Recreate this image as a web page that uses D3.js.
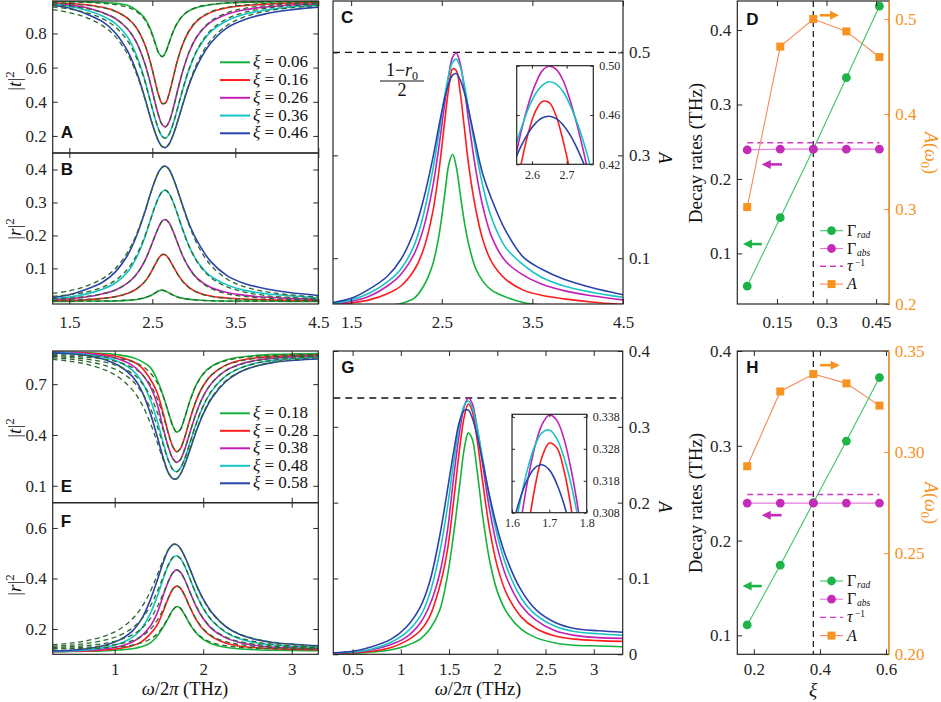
<!DOCTYPE html>
<html>
<head>
<meta charset="utf-8">
<script src="https://cdn.jsdelivr.net/npm/d3@7"></script>
<style>
  body { margin: 0; background: #fff; }
  svg { display: block; }
</style>
</head>
<body>
<svg id="fig" width="941" height="702"></svg>
<script>
// ---------- data ----------
// order of every series: xi = 0.06/0.16/0.26/0.36/0.46 (top) and 0.18 ... 0.58 (bottom)
const xiTop = ["0.06", "0.16", "0.26", "0.36", "0.46"];
const xiBot = ["0.18", "0.28", "0.38", "0.48", "0.58"];

const freqTop = [1.3, 1.5, 1.7, 1.9, 2.05, 2.2, 2.3, 2.4, 2.47, 2.53, 2.58, 2.62, 2.66, 2.7, 2.75, 2.8, 2.87, 2.95, 3.05, 3.2, 3.4, 3.6, 3.85, 4.15, 4.5];

const tSimTop = [
  [0.988, 0.987, 0.985, 0.981, 0.977, 0.965, 0.94, 0.895, 0.834, 0.753, 0.683, 0.664, 0.689, 0.742, 0.809, 0.859, 0.905, 0.934, 0.954, 0.968, 0.978, 0.982, 0.985, 0.987, 0.988],
  [0.98, 0.975, 0.968, 0.953, 0.932, 0.89, 0.839, 0.747, 0.643, 0.527, 0.433, 0.39, 0.394, 0.443, 0.538, 0.636, 0.74, 0.819, 0.878, 0.922, 0.95, 0.963, 0.971, 0.977, 0.982],
  [0.972, 0.966, 0.952, 0.922, 0.889, 0.828, 0.756, 0.639, 0.521, 0.403, 0.313, 0.265, 0.253, 0.28, 0.358, 0.456, 0.584, 0.697, 0.789, 0.865, 0.912, 0.937, 0.954, 0.965, 0.973],
  [0.971, 0.959, 0.937, 0.902, 0.86, 0.781, 0.684, 0.544, 0.415, 0.308, 0.233, 0.196, 0.187, 0.208, 0.27, 0.354, 0.476, 0.598, 0.708, 0.808, 0.874, 0.911, 0.936, 0.953, 0.965],
  [0.964, 0.949, 0.915, 0.869, 0.806, 0.699, 0.588, 0.44, 0.319, 0.226, 0.165, 0.137, 0.132, 0.151, 0.204, 0.277, 0.389, 0.509, 0.622, 0.741, 0.833, 0.879, 0.913, 0.937, 0.954]
];
const tFitTop = [
  [0.986, 0.984, 0.982, 0.977, 0.969, 0.954, 0.932, 0.887, 0.826, 0.748, 0.683, 0.664, 0.689, 0.742, 0.81, 0.861, 0.907, 0.936, 0.956, 0.97, 0.979, 0.983, 0.985, 0.987, 0.988],
  [0.978, 0.973, 0.965, 0.951, 0.93, 0.89, 0.839, 0.747, 0.643, 0.527, 0.433, 0.39, 0.394, 0.443, 0.538, 0.636, 0.742, 0.822, 0.881, 0.926, 0.953, 0.966, 0.975, 0.98, 0.984],
  [0.968, 0.959, 0.946, 0.922, 0.889, 0.828, 0.756, 0.639, 0.521, 0.403, 0.313, 0.265, 0.253, 0.28, 0.358, 0.456, 0.586, 0.7, 0.793, 0.871, 0.921, 0.946, 0.962, 0.972, 0.978],
  [0.955, 0.943, 0.923, 0.887, 0.84, 0.758, 0.668, 0.535, 0.415, 0.308, 0.233, 0.196, 0.187, 0.208, 0.27, 0.354, 0.479, 0.602, 0.713, 0.816, 0.886, 0.922, 0.946, 0.961, 0.971],
  [0.94, 0.922, 0.894, 0.846, 0.784, 0.681, 0.576, 0.434, 0.319, 0.226, 0.165, 0.137, 0.132, 0.151, 0.204, 0.277, 0.392, 0.515, 0.637, 0.758, 0.847, 0.895, 0.928, 0.949, 0.963]
];
const rSimTop = [
  [0, 0, 0.001, 0.001, 0.001, 0.003, 0.005, 0.01, 0.016, 0.025, 0.032, 0.034, 0.031, 0.026, 0.019, 0.014, 0.009, 0.006, 0.004, 0.002, 0.001, 0.001, 0.001, 0, 0],
  [0.002, 0.003, 0.005, 0.009, 0.014, 0.024, 0.036, 0.057, 0.082, 0.11, 0.132, 0.142, 0.141, 0.129, 0.107, 0.085, 0.06, 0.041, 0.027, 0.016, 0.01, 0.007, 0.005, 0.003, 0.002],
  [0.006, 0.008, 0.013, 0.023, 0.034, 0.055, 0.079, 0.118, 0.158, 0.197, 0.227, 0.244, 0.248, 0.239, 0.213, 0.18, 0.136, 0.099, 0.068, 0.043, 0.027, 0.019, 0.013, 0.009, 0.006],
  [0.008, 0.013, 0.022, 0.037, 0.055, 0.088, 0.128, 0.187, 0.241, 0.286, 0.317, 0.333, 0.337, 0.328, 0.302, 0.267, 0.216, 0.164, 0.118, 0.077, 0.05, 0.034, 0.024, 0.017, 0.011],
  [0.012, 0.02, 0.036, 0.058, 0.088, 0.139, 0.192, 0.263, 0.32, 0.365, 0.394, 0.407, 0.41, 0.401, 0.375, 0.34, 0.288, 0.231, 0.179, 0.122, 0.078, 0.055, 0.039, 0.027, 0.018]
];
const rFitTop = [
  [0, 0.001, 0.001, 0.001, 0.002, 0.004, 0.006, 0.011, 0.017, 0.025, 0.032, 0.034, 0.031, 0.026, 0.019, 0.013, 0.009, 0.006, 0.004, 0.002, 0.001, 0.001, 0.001, 0, 0],
  [0.003, 0.004, 0.006, 0.009, 0.014, 0.024, 0.036, 0.057, 0.082, 0.11, 0.132, 0.142, 0.141, 0.129, 0.107, 0.084, 0.059, 0.04, 0.026, 0.015, 0.009, 0.006, 0.004, 0.002, 0.002],
  [0.008, 0.01, 0.015, 0.023, 0.034, 0.055, 0.079, 0.118, 0.158, 0.197, 0.227, 0.244, 0.248, 0.239, 0.213, 0.18, 0.136, 0.098, 0.066, 0.04, 0.023, 0.015, 0.01, 0.006, 0.004],
  [0.015, 0.02, 0.028, 0.043, 0.063, 0.097, 0.135, 0.191, 0.241, 0.286, 0.317, 0.333, 0.337, 0.328, 0.302, 0.267, 0.214, 0.163, 0.116, 0.073, 0.044, 0.029, 0.018, 0.012, 0.008],
  [0.024, 0.032, 0.046, 0.069, 0.098, 0.148, 0.198, 0.265, 0.32, 0.365, 0.394, 0.407, 0.41, 0.401, 0.375, 0.34, 0.285, 0.227, 0.169, 0.111, 0.068, 0.045, 0.03, 0.02, 0.013]
];
const absTop = [
  [0.002, 0.003, 0.005, 0.008, 0.012, 0.023, 0.046, 0.088, 0.145, 0.22, 0.284, 0.302, 0.278, 0.23, 0.17, 0.125, 0.082, 0.056, 0.038, 0.025, 0.014, 0.009, 0.007, 0.005, 0.004],
  [0.009, 0.013, 0.019, 0.031, 0.046, 0.078, 0.118, 0.189, 0.271, 0.362, 0.434, 0.468, 0.465, 0.427, 0.353, 0.277, 0.2, 0.138, 0.093, 0.06, 0.038, 0.028, 0.021, 0.015, 0.01],
  [0.012, 0.016, 0.026, 0.046, 0.069, 0.11, 0.159, 0.238, 0.318, 0.397, 0.459, 0.491, 0.499, 0.481, 0.429, 0.362, 0.278, 0.203, 0.142, 0.095, 0.067, 0.05, 0.037, 0.027, 0.019],
  [0.012, 0.019, 0.032, 0.054, 0.079, 0.127, 0.186, 0.27, 0.345, 0.413, 0.458, 0.481, 0.487, 0.474, 0.437, 0.385, 0.315, 0.243, 0.178, 0.122, 0.087, 0.063, 0.046, 0.034, 0.024],
  [0.014, 0.022, 0.04, 0.065, 0.098, 0.155, 0.215, 0.293, 0.358, 0.409, 0.441, 0.456, 0.459, 0.448, 0.422, 0.385, 0.327, 0.265, 0.215, 0.155, 0.102, 0.079, 0.059, 0.043, 0.029]
];
// zoomed peak of C (red, magenta, cyan, blue)
const freqInsetTop = [2.55, 2.57, 2.59, 2.61, 2.63, 2.65, 2.67, 2.69, 2.71, 2.73, 2.75, 2.77, 2.79];
const absInsetTop = [
  [0.393, 0.422, 0.446, 0.463, 0.471, 0.47, 0.459, 0.439, 0.414, 0.384, 0.35, 0.315, 0.28],
  [0.423, 0.448, 0.469, 0.485, 0.496, 0.4995, 0.497, 0.488, 0.472, 0.452, 0.429, 0.403, 0.377],
  [0.433, 0.45, 0.4655, 0.477, 0.484, 0.487, 0.485, 0.479, 0.468, 0.454, 0.437, 0.417, 0.395],
  [0.423, 0.4355, 0.4457, 0.4532, 0.4577, 0.459, 0.4571, 0.4519, 0.4439, 0.4332, 0.4202, 0.405, 0.389]
];

const freqBot = [0.3, 0.5, 0.7, 0.9, 1.05, 1.2, 1.3, 1.4, 1.48, 1.55, 1.61, 1.66, 1.7, 1.74, 1.79, 1.85, 1.92, 2.0, 2.1, 2.25, 2.4, 2.6, 2.8, 3.05, 3.3];

const tSimBot = [
  [0.889, 0.888, 0.886, 0.881, 0.873, 0.857, 0.836, 0.801, 0.726, 0.629, 0.529, 0.449, 0.417, 0.431, 0.5, 0.602, 0.695, 0.762, 0.808, 0.842, 0.859, 0.87, 0.876, 0.879, 0.881],
  [0.889, 0.887, 0.882, 0.874, 0.861, 0.835, 0.801, 0.732, 0.65, 0.524, 0.404, 0.328, 0.301, 0.318, 0.385, 0.492, 0.603, 0.691, 0.758, 0.811, 0.838, 0.856, 0.864, 0.87, 0.873],
  [0.888, 0.885, 0.879, 0.866, 0.847, 0.811, 0.765, 0.689, 0.582, 0.436, 0.323, 0.258, 0.238, 0.253, 0.314, 0.414, 0.528, 0.628, 0.709, 0.779, 0.815, 0.841, 0.854, 0.862, 0.867],
  [0.887, 0.883, 0.874, 0.857, 0.831, 0.783, 0.722, 0.611, 0.485, 0.351, 0.246, 0.195, 0.183, 0.202, 0.258, 0.353, 0.465, 0.57, 0.662, 0.746, 0.792, 0.825, 0.842, 0.852, 0.859],
  [0.885, 0.88, 0.868, 0.843, 0.809, 0.746, 0.667, 0.532, 0.392, 0.263, 0.173, 0.141, 0.142, 0.166, 0.223, 0.312, 0.419, 0.523, 0.62, 0.713, 0.768, 0.807, 0.829, 0.842, 0.849]
];
const tFitBot = [
  [0.875, 0.872, 0.868, 0.861, 0.851, 0.833, 0.81, 0.768, 0.709, 0.625, 0.527, 0.449, 0.417, 0.431, 0.5, 0.601, 0.693, 0.759, 0.805, 0.838, 0.854, 0.865, 0.87, 0.874, 0.876],
  [0.87, 0.865, 0.858, 0.846, 0.829, 0.798, 0.762, 0.699, 0.616, 0.51, 0.402, 0.327, 0.301, 0.317, 0.385, 0.492, 0.603, 0.69, 0.757, 0.809, 0.835, 0.853, 0.862, 0.869, 0.872],
  [0.864, 0.857, 0.847, 0.829, 0.805, 0.763, 0.713, 0.634, 0.536, 0.424, 0.322, 0.258, 0.238, 0.253, 0.313, 0.414, 0.528, 0.628, 0.71, 0.778, 0.814, 0.839, 0.853, 0.862, 0.868],
  [0.856, 0.848, 0.833, 0.809, 0.777, 0.72, 0.657, 0.561, 0.452, 0.338, 0.245, 0.194, 0.183, 0.202, 0.259, 0.354, 0.467, 0.572, 0.665, 0.747, 0.791, 0.824, 0.842, 0.855, 0.863],
  [0.847, 0.835, 0.816, 0.782, 0.739, 0.666, 0.588, 0.474, 0.358, 0.249, 0.173, 0.141, 0.142, 0.167, 0.226, 0.317, 0.424, 0.529, 0.626, 0.717, 0.769, 0.808, 0.831, 0.847, 0.856]
];
const rSimBot = [
  [0.11, 0.111, 0.112, 0.114, 0.117, 0.122, 0.13, 0.144, 0.172, 0.209, 0.246, 0.277, 0.289, 0.283, 0.257, 0.219, 0.184, 0.159, 0.141, 0.128, 0.122, 0.118, 0.116, 0.115, 0.114],
  [0.111, 0.112, 0.113, 0.117, 0.123, 0.134, 0.149, 0.18, 0.216, 0.272, 0.325, 0.359, 0.37, 0.363, 0.333, 0.286, 0.237, 0.198, 0.169, 0.145, 0.133, 0.126, 0.122, 0.119, 0.118],
  [0.111, 0.113, 0.116, 0.122, 0.131, 0.149, 0.172, 0.21, 0.263, 0.335, 0.391, 0.424, 0.434, 0.426, 0.396, 0.346, 0.29, 0.241, 0.2, 0.166, 0.148, 0.135, 0.128, 0.125, 0.122],
  [0.112, 0.114, 0.118, 0.128, 0.142, 0.167, 0.2, 0.26, 0.328, 0.4, 0.456, 0.484, 0.49, 0.48, 0.45, 0.399, 0.339, 0.282, 0.233, 0.188, 0.163, 0.146, 0.137, 0.131, 0.128],
  [0.113, 0.116, 0.123, 0.137, 0.156, 0.192, 0.237, 0.313, 0.392, 0.465, 0.516, 0.535, 0.534, 0.52, 0.488, 0.438, 0.377, 0.319, 0.264, 0.211, 0.18, 0.158, 0.146, 0.139, 0.134]
];
const rFitBot = [
  [0.121, 0.122, 0.123, 0.126, 0.129, 0.136, 0.145, 0.16, 0.181, 0.212, 0.248, 0.277, 0.289, 0.284, 0.258, 0.221, 0.187, 0.163, 0.146, 0.134, 0.128, 0.124, 0.122, 0.121, 0.12],
  [0.123, 0.125, 0.128, 0.134, 0.141, 0.154, 0.17, 0.198, 0.234, 0.28, 0.327, 0.359, 0.37, 0.363, 0.334, 0.287, 0.24, 0.201, 0.172, 0.15, 0.139, 0.131, 0.127, 0.124, 0.122],
  [0.127, 0.13, 0.135, 0.144, 0.156, 0.177, 0.201, 0.24, 0.287, 0.342, 0.392, 0.424, 0.434, 0.426, 0.397, 0.347, 0.292, 0.243, 0.203, 0.169, 0.151, 0.139, 0.132, 0.128, 0.125],
  [0.132, 0.136, 0.144, 0.157, 0.174, 0.204, 0.238, 0.289, 0.347, 0.408, 0.457, 0.484, 0.49, 0.48, 0.45, 0.399, 0.339, 0.283, 0.234, 0.19, 0.166, 0.149, 0.139, 0.132, 0.128],
  [0.138, 0.144, 0.155, 0.174, 0.198, 0.24, 0.284, 0.347, 0.413, 0.474, 0.516, 0.535, 0.534, 0.52, 0.487, 0.436, 0.375, 0.316, 0.262, 0.211, 0.182, 0.16, 0.147, 0.138, 0.132]
];
const absBot = [
  [0.001, 0.001, 0.003, 0.006, 0.011, 0.02, 0.033, 0.057, 0.101, 0.161, 0.223, 0.273, 0.292, 0.284, 0.243, 0.181, 0.124, 0.083, 0.055, 0.033, 0.022, 0.015, 0.012, 0.011, 0.01],
  [0.001, 0.002, 0.004, 0.009, 0.017, 0.031, 0.05, 0.088, 0.135, 0.205, 0.272, 0.315, 0.33, 0.321, 0.284, 0.226, 0.165, 0.116, 0.079, 0.049, 0.034, 0.024, 0.02, 0.018, 0.017],
  [0.001, 0.003, 0.006, 0.013, 0.022, 0.041, 0.065, 0.105, 0.16, 0.236, 0.294, 0.328, 0.338, 0.331, 0.3, 0.249, 0.191, 0.141, 0.1, 0.064, 0.045, 0.031, 0.025, 0.022, 0.021],
  [0.002, 0.003, 0.007, 0.016, 0.028, 0.05, 0.08, 0.132, 0.191, 0.255, 0.304, 0.329, 0.334, 0.326, 0.3, 0.257, 0.205, 0.157, 0.114, 0.074, 0.052, 0.037, 0.03, 0.027, 0.025],
  [0.002, 0.004, 0.01, 0.02, 0.035, 0.062, 0.096, 0.154, 0.214, 0.269, 0.308, 0.322, 0.322, 0.312, 0.289, 0.253, 0.209, 0.166, 0.125, 0.084, 0.059, 0.042, 0.034, 0.031, 0.029]
];
const freqInsetBot = [1.6, 1.62, 1.64, 1.66, 1.68, 1.7, 1.72, 1.74, 1.76, 1.78, 1.8];
const absInsetBot = [
  [0.2625, 0.2824, 0.3004, 0.3151, 0.3253, 0.3298, 0.3283, 0.3208, 0.3082, 0.2917, 0.2726],
  [0.286, 0.3024, 0.3168, 0.3281, 0.3355, 0.3386, 0.3369, 0.3308, 0.3205, 0.307, 0.2911],
  [0.2977, 0.3104, 0.3209, 0.3286, 0.333, 0.3339, 0.3312, 0.325, 0.316, 0.3043, 0.2907],
  [0.3033, 0.3118, 0.3181, 0.3219, 0.323, 0.3214, 0.317, 0.3103, 0.3014, 0.2907, 0.28]
];
const maxAbsTop = 0.5, maxAbsBot = 0.338;   // (1 - r0)/2

// decay rates vs xi
const xiD = [0.06, 0.16, 0.26, 0.36, 0.46];
const gradD = [0.056, 0.148, 0.24, 0.336, 0.432];
const gabsD = [0.239, 0.24, 0.24, 0.24, 0.24];
const tauInvD = 0.2485;
const peakAbsD = [0.302, 0.471, 0.5, 0.487, 0.46];
const xiCritD = 0.26;

const xiH = [0.18, 0.28, 0.38, 0.48, 0.58];
const gradH = [0.111, 0.174, 0.24, 0.305, 0.372];
const gabsH = [0.2395, 0.2395, 0.2395, 0.2395, 0.2395];
const tauInvH = 0.2486;
const peakAbsH = [0.293, 0.33, 0.3386, 0.334, 0.323];
const xiCritH = 0.38;

// ---------- style ----------
const colors = ["#14b23a", "#ff1c1c", "#c21fb6", "#16c4c4", "#2a43ab"];
const fitColor = "#2c682c";
const ink = "#262626";
const orange = "#f7931e";
const serif = '"Liberation Serif","DejaVu Serif",serif';
const sans = '"Liberation Sans","DejaVu Sans",Arial,sans-serif';

const svg = d3.select("#fig");
const curvesLayer = svg.append("g");
const frameLayer = svg.append("g");
let clipCount = 0;

function panel(x0, x1, y0, y1, xDom, yDom) {
  const id = "clip" + (clipCount++);
  svg.append("clipPath").attr("id", id)
    .append("rect").attr("x", x0).attr("y", y0).attr("width", x1 - x0).attr("height", y1 - y0);
  return {
    x0, x1, y0, y1,
    x: d3.scaleLinear().domain(xDom).range([x0, x1]),
    y: d3.scaleLinear().domain(yDom).range([y1, y0]),
    g: curvesLayer.append("g").attr("clip-path", `url(#${id})`)
  };
}

function styleAxis(sel, color, fs) {
  sel.select(".domain").remove();
  sel.selectAll("line").attr("stroke", color).attr("stroke-width", 1);
  sel.selectAll("text").attr("font-family", serif).attr("font-size", fs).attr("fill", color);
}

// MATLAB-like box: ticks inside on all four sides
function axes(p, o) {
  const g = frameLayer.append("g");
  const fs = o.fs || 17, tk = o.tick || 5;
  const fmtX = o.xFmt || null, fmtY = o.yFmt || (d => String(d));
  g.append("g").attr("transform", `translate(0,${p.y1})`)
    .call(d3.axisBottom(p.x).tickValues(o.xTicks).tickSize(-tk).tickSizeOuter(0)
      .tickPadding(o.xPad || 9).tickFormat(fmtX ? fmtX : () => ""))
    .call(s => styleAxis(s, ink, fs));
  g.append("g").attr("transform", `translate(0,${p.y0})`)
    .call(d3.axisTop(p.x).tickValues(o.xTicks).tickSize(-tk).tickSizeOuter(0).tickFormat(() => ""))
    .call(s => styleAxis(s, ink, fs));
  const rightScale = o.y2 ? o.y2.scale : p.y;
  g.append("g").attr("transform", `translate(${p.x0},0)`)
    .call(d3.axisLeft(p.y).tickValues(o.yTicks).tickSize(-tk).tickSizeOuter(0)
      .tickPadding(6).tickFormat(o.ySide === "right" ? () => "" : fmtY))
    .call(s => styleAxis(s, ink, fs));
  g.append("g").attr("transform", `translate(${p.x1},0)`)
    .call(d3.axisRight(rightScale).tickValues(o.y2 ? o.y2.ticks : o.yTicks).tickSize(-tk).tickSizeOuter(0)
      .tickPadding(6).tickFormat(o.y2 ? o.y2.fmt : (o.ySide === "right" ? fmtY : () => "")))
    .call(s => styleAxis(s, o.y2 ? orange : ink, fs));
  g.append("rect").attr("x", p.x0).attr("y", p.y0).attr("width", p.x1 - p.x0).attr("height", p.y1 - p.y0)
    .attr("fill", "none").attr("stroke", ink).attr("stroke-width", 1.2);
  if (o.y2) {
    g.append("line").attr("x1", p.x1).attr("x2", p.x1).attr("y1", p.y0).attr("y2", p.y1)
      .attr("stroke", orange).attr("stroke-width", 1.4);
  }
}

function curves(p, freq, sets, cols, dashed) {
  const line = d3.line()
    .x((d, i) => p.x(freq[i]))
    .y(d => p.y(d))
    .curve(d3.curveCatmullRom.alpha(0.5));
  p.g.selectAll(null).data(sets).join("path")
    .attr("d", line)
    .attr("fill", "none")
    .attr("stroke", (d, i) => dashed ? fitColor : cols[i])
    .attr("stroke-width", dashed ? 1.3 : 1.6)
    .attr("stroke-dasharray", dashed ? "5,3.5" : null);
}

function letter(p, txt, dx, dy) {
  frameLayer.append("text").attr("x", p.x0 + dx).attr("y", p.y0 + dy)
    .attr("font-family", sans).attr("font-weight", "bold").attr("font-size", 17).attr("fill", "#111")
    .text(txt);
}

function rotLabel(x, y, angle, build, color, fs) {
  const t = frameLayer.append("text")
    .attr("transform", `translate(${x},${y}) rotate(${angle})`)
    .attr("text-anchor", "middle").attr("font-family", serif).attr("font-size", fs || 19)
    .attr("fill", color || "#111");
  build(t);
}
function absLabel(t) {          // |t|^2 or |r|^2
  return sym => {
    t.append("tspan").text("|");
    t.append("tspan").attr("font-style", "italic").text(sym);
    t.append("tspan").text("|");
    t.append("tspan").attr("font-size", 13).attr("dy", -7).text("2");
  };
}

function xiLegend(p, labels, x, y, step) {
  const g = frameLayer.append("g");
  labels.forEach((lab, i) => {
    const yy = y + i * step;
    g.append("line").attr("x1", x).attr("x2", x + 30).attr("y1", yy).attr("y2", yy)
      .attr("stroke", colors[i]).attr("stroke-width", 2);
    const t = g.append("text").attr("x", x + 33).attr("y", yy + 5)
      .attr("font-family", serif).attr("font-size", 17).attr("fill", "#111");
    t.append("tspan").attr("font-style", "italic").text("ξ");
    t.append("tspan").text(" = " + lab);
  });
}

function xTitle(x, y) {
  const t = frameLayer.append("text").attr("x", x).attr("y", y).attr("text-anchor", "middle")
    .attr("font-family", serif).attr("font-size", 18.5).attr("fill", "#111");
  t.append("tspan").attr("font-style", "italic").text("ω");
  t.append("tspan").text("/2");
  t.append("tspan").attr("font-style", "italic").text("π");
  t.append("tspan").text(" (THz)");
}

// ---------- top row ----------
const pA = panel(52.7, 318.3, 1, 153, [1.3, 4.5], [0.1, 0.99]);
const pB = panel(52.7, 318.3, 153, 304, [1.3, 4.5], [-0.008, 0.45]);
const pC = panel(333, 623, 1, 304, [1.3, 4.5], [0.011, 0.6]);

curves(pA, freqTop, tSimTop, colors, false);
curves(pA, freqTop, tFitTop, colors, true);
curves(pB, freqTop, rSimTop, colors, false);
curves(pB, freqTop, rFitTop, colors, true);
pC.g.append("line").attr("x1", pC.x0).attr("x2", pC.x1)
  .attr("y1", pC.y(maxAbsTop)).attr("y2", pC.y(maxAbsTop))
  .attr("stroke", "#111").attr("stroke-width", 1.3).attr("stroke-dasharray", "7,5");
curves(pC, freqTop, absTop, colors, false);

axes(pA, { xTicks: [1.5, 2.5, 3.5, 4.5], yTicks: [0.2, 0.4, 0.6, 0.8] });
axes(pB, { xTicks: [1.5, 2.5, 3.5, 4.5], yTicks: [0.1, 0.2, 0.3, 0.4], xFmt: d => String(d), xPad: 12 });
axes(pC, { xTicks: [1.5, 2.5, 3.5, 4.5], yTicks: [0.1, 0.3, 0.5], ySide: "right", xFmt: d => String(d), xPad: 12 });
letter(pA, "A", 8, 137);
letter(pB, "B", 8, 22);
letter(pC, "C", 8, 22);
xiLegend(pA, xiTop, 220, 62.3, 17.75);
rotLabel(21, 81, -90, t => absLabel(t)("t"));
rotLabel(21, 229, -90, t => absLabel(t)("r"));
rotLabel(659, 158, 90, t => t.append("tspan").attr("font-style", "italic").text("A"), null, 18);

// (1 - r0)/2 annotation
{
  const g = frameLayer.append("g").attr("font-family", serif).attr("font-size", 18).attr("fill", "#111");
  const cx = pC.x(1.3) + 69;
  const num = g.append("text").attr("x", cx).attr("y", 76).attr("text-anchor", "middle");
  num.append("tspan").text("1−");
  num.append("tspan").attr("font-style", "italic").text("r");
  num.append("tspan").attr("font-size", 12).attr("dy", 4).text("0");
  g.append("line").attr("x1", cx - 22).attr("x2", cx + 22).attr("y1", 81).attr("y2", 81)
    .attr("stroke", "#111").attr("stroke-width", 1);
  g.append("text").attr("x", cx).attr("y", 96).attr("text-anchor", "middle").text("2");
}

// inset of C
const pCi = panel(516.7, 593.3, 65.7, 164.3, [2.556, 2.777], [0.42, 0.5]);
pCi.g.append("rect").attr("x", pCi.x0).attr("y", pCi.y0).attr("width", pCi.x1 - pCi.x0)
  .attr("height", pCi.y1 - pCi.y0).attr("fill", "#fff");
curves(pCi, freqInsetTop, absInsetTop, colors.slice(1), false);
axes(pCi, { xTicks: [2.6, 2.7], yTicks: [0.42, 0.46, 0.5], ySide: "right", fs: 12, tick: 3,
  xFmt: d => d.toFixed(1), yFmt: d3.format(".2f"), xPad: 6 });

// D: decay rates
const pD = panel(737.3, 889.3, 1, 304, [0.03, 0.49], [0.032, 0.439]);
const yD2 = d3.scaleLinear().domain([0.2, 0.519]).range([304, 1]);
// H: decay rates
const pH = panel(737.3, 888.7, 351, 654.3, [0.15, 0.608], [0.08, 0.4]);
const yH2 = d3.scaleLinear().domain([0.2, 0.35]).range([654.3, 351]);

function ratesPanel(p, y2, xi, grad, gabs, tauInv, peakAbs, xiCrit, arrowsSpec) {
  const g = p.g;
  g.append("line").attr("x1", p.x(xiCrit)).attr("x2", p.x(xiCrit)).attr("y1", p.y0).attr("y2", p.y1)
    .attr("stroke", "#111").attr("stroke-width", 1.2).attr("stroke-dasharray", "6,4");
  g.append("line").attr("x1", p.x(xi[0])).attr("x2", p.x(xi[xi.length - 1]))
    .attr("y1", p.y(tauInv)).attr("y2", p.y(tauInv))
    .attr("stroke", "#d23cc6").attr("stroke-width", 1.4).attr("stroke-dasharray", "6,4");
  const lineL = d3.line().x((d, i) => p.x(xi[i])).y(d => p.y(d));
  const lineR = d3.line().x((d, i) => p.x(xi[i])).y(d => y2(d));
  g.append("path").attr("d", lineR(peakAbs)).attr("fill", "none").attr("stroke", "#f58a5a").attr("stroke-width", 1.1);
  g.append("path").attr("d", lineL(grad)).attr("fill", "none").attr("stroke", "#3cc466").attr("stroke-width", 1.1);
  g.append("path").attr("d", lineL(gabs)).attr("fill", "none").attr("stroke", "#e07ad8").attr("stroke-width", 1.1);
  g.selectAll(null).data(peakAbs).join("rect")
    .attr("x", (d, i) => p.x(xi[i]) - 4).attr("y", d => y2(d) - 4).attr("width", 8).attr("height", 8)
    .attr("fill", orange);
  g.selectAll(null).data(grad).join("circle")
    .attr("cx", (d, i) => p.x(xi[i])).attr("cy", d => p.y(d)).attr("r", 4.4).attr("fill", "#1db447");
  g.selectAll(null).data(gabs).join("circle")
    .attr("cx", (d, i) => p.x(xi[i])).attr("cy", d => p.y(d)).attr("r", 4.4).attr("fill", "#c42bb8");
  arrowsSpec.forEach(a => {
    const ys = a.axis === "R" ? y2 : p.y;
    const x1 = p.x(a.x[0]), x2 = p.x(a.x[1]), yy = ys(a.y);
    const dir = Math.sign(x2 - x1);
    frameLayer.append("line").attr("x1", x1).attr("x2", x2 - dir * 6).attr("y1", yy).attr("y2", yy)
      .attr("stroke", a.color).attr("stroke-width", 2.6);
    frameLayer.append("path")
      .attr("d", `M${x2},${yy} L${x2 - dir * 9},${yy - 4.5} L${x2 - dir * 9},${yy + 4.5} Z`)
      .attr("fill", a.color);
  });
}

const arrowsD = [
  { axis: "L", x: [0.104, 0.047], y: 0.1125, color: "#1db447" },
  { axis: "L", x: [0.165, 0.104], y: 0.2195, color: "#c42bb8" },
  { axis: "R", x: [0.28, 0.338], y: 0.504, color: orange }
];
const arrowsH = [
  { axis: "L", x: [0.224, 0.166], y: 0.152, color: "#1db447" },
  { axis: "L", x: [0.284, 0.224], y: 0.2268, color: "#c42bb8" },
  { axis: "R", x: [0.4, 0.46], y: 0.343, color: orange }
];
ratesPanel(pD, yD2, xiD, gradD, gabsD, tauInvD, peakAbsD, xiCritD, arrowsD);
ratesPanel(pH, yH2, xiH, gradH, gabsH, tauInvH, peakAbsH, xiCritH, arrowsH);

axes(pD, { xTicks: [0.15, 0.3, 0.45], yTicks: [0.1, 0.2, 0.3, 0.4], xFmt: d => String(d), xPad: 12,
  y2: { scale: yD2, ticks: [0.2, 0.3, 0.4, 0.5], fmt: d => d.toFixed(1) } });
axes(pH, { xTicks: [0.2, 0.4, 0.6], yTicks: [0.1, 0.2, 0.3, 0.4], xFmt: d => String(d), xPad: 9,
  y2: { scale: yH2, ticks: [0.2, 0.25, 0.3, 0.35], fmt: d3.format(".2f") } });
letter(pD, "D", 9, 24);
letter(pH, "H", 9, 22);

function ratesLegend(p, y, step) {
  const g = frameLayer.append("g");
  const x = 820;
  const items = [
    { c: "#3cc466", m: "circle", mc: "#1db447", sym: "Γ", sub: "rad" },
    { c: "#e07ad8", m: "circle", mc: "#c42bb8", sym: "Γ", sub: "abs" },
    { c: "#d23cc6", m: "dash", sym: "τ", sup: "−1" },
    { c: "#f58a5a", m: "square", mc: orange, sym: "A" }
  ];
  items.forEach((it, i) => {
    const yy = y + i * step;
    g.append("line").attr("x1", x).attr("x2", x + 23).attr("y1", yy).attr("y2", yy)
      .attr("stroke", it.c).attr("stroke-width", it.m === "dash" ? 1.4 : 1.1)
      .attr("stroke-dasharray", it.m === "dash" ? "6,4" : null);
    if (it.m === "circle") g.append("circle").attr("cx", x + 11.5).attr("cy", yy).attr("r", 4.4).attr("fill", it.mc);
    if (it.m === "square") g.append("rect").attr("x", x + 7.5).attr("y", yy - 4).attr("width", 8).attr("height", 8).attr("fill", it.mc);
    // main symbol and its index are separate text nodes so they do not collide with neighbouring rows
    const t = g.append("text").attr("x", x + 27).attr("y", yy + 5)
      .attr("font-family", serif).attr("font-size", 16).attr("fill", "#111")
      .attr("font-style", it.sym === "Γ" ? "normal" : "italic").text(it.sym);
    const w = it.sym === "Γ" ? 10 : 8;
    if (it.sub) g.append("text").attr("x", x + 27 + w).attr("y", yy + 7)
      .attr("font-family", serif).attr("font-size", 9.5).attr("font-style", "italic").attr("fill", "#111").text(it.sub);
    if (it.sup) g.append("text").attr("x", x + 27 + w).attr("y", yy)
      .attr("font-family", serif).attr("font-size", 9.5).attr("fill", "#111").text(it.sup);
  });
}
ratesLegend(pD, 230.7, 17.8);
ratesLegend(pH, 581, 18.2);

function decayLabels(cy) {
  rotLabel(702, cy, -90, t => t.text("Decay rates (THz)"));
  rotLabel(925, cy, 90, t => {
    t.append("tspan").attr("font-style", "italic").text("A");
    t.append("tspan").text("(");
    t.append("tspan").attr("font-style", "italic").text("ω");
    t.append("tspan").attr("font-size", 13).attr("dy", 4).text("0");
    t.append("tspan").attr("dy", -4).text(")");
  }, orange, 18);
}
decayLabels(153);
decayLabels(503);

// ---------- bottom row ----------
const pE = panel(52.7, 318.3, 351, 502.7, [0.3, 3.3], [0, 0.896]);
const pF = panel(52.7, 318.3, 502.7, 654.3, [0.3, 3.3], [0.1, 0.7]);
const pG = panel(333.3, 622.7, 351, 654.3, [0.3, 3.3], [0, 0.4]);

curves(pE, freqBot, tSimBot, colors, false);
curves(pE, freqBot, tFitBot, colors, true);
curves(pF, freqBot, rSimBot, colors, false);
curves(pF, freqBot, rFitBot, colors, true);
pG.g.append("line").attr("x1", pG.x0).attr("x2", pG.x1)
  .attr("y1", pG.y(maxAbsBot)).attr("y2", pG.y(maxAbsBot))
  .attr("stroke", "#111").attr("stroke-width", 1.3).attr("stroke-dasharray", "7,5");
curves(pG, freqBot, absBot, colors, false);

axes(pE, { xTicks: [1, 2, 3], yTicks: [0.1, 0.4, 0.7] });
axes(pF, { xTicks: [1, 2, 3], yTicks: [0.2, 0.4, 0.6], xFmt: d => String(d), xPad: 9 });
axes(pG, { xTicks: [0.5, 1, 1.5, 2, 2.5, 3], yTicks: [0, 0.1, 0.2, 0.3, 0.4], ySide: "right",
  xFmt: d => String(d), xPad: 9 });
letter(pE, "E", 8, 141);
letter(pF, "F", 8, 24);
letter(pG, "G", 8, 22);
xiLegend(pE, xiBot, 220, 413.3, 17.5);
rotLabel(21, 428, -90, t => absLabel(t)("t"));
rotLabel(21, 585, -90, t => absLabel(t)("r"));
rotLabel(659, 507, 90, t => t.append("tspan").attr("font-style", "italic").text("A"), null, 18);
xTitle(185, 695);
xTitle(478, 695);
frameLayer.append("text").attr("x", 813).attr("y", 696).attr("text-anchor", "middle")
  .attr("font-family", serif).attr("font-size", 19).attr("font-style", "italic").attr("fill", "#111").text("ξ");

// inset of G
const pGi = panel(512, 586.7, 414.3, 512.7, [1.6, 1.8], [0.308, 0.3388]);
pGi.g.append("rect").attr("x", pGi.x0).attr("y", pGi.y0).attr("width", pGi.x1 - pGi.x0)
  .attr("height", pGi.y1 - pGi.y0).attr("fill", "#fff");
curves(pGi, freqInsetBot, absInsetBot, colors.slice(1), false);
axes(pGi, { xTicks: [1.6, 1.7, 1.8], yTicks: [0.308, 0.318, 0.328, 0.338], ySide: "right", fs: 12, tick: 3,
  xFmt: d => d.toFixed(1), yFmt: d3.format(".3f"), xPad: 6 });
</script>
</body>
</html>
